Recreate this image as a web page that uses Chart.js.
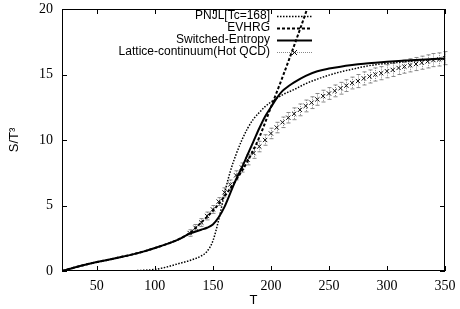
<!DOCTYPE html>
<html>
<head>
<meta charset="utf-8">
<script src="https://cdn.jsdelivr.net/npm/chart.js@4/dist/chart.umd.min.js"></script>
<style>
  html, body { margin: 0; padding: 0; background: #fff; }
  #wrap { width: 460px; height: 309px; }
</style>
</head>
<body>
<div id="wrap"><canvas id="chart"></canvas></div>
<script>
// Switched-Entropy (solid)
const swT = [20, 30, 40, 50, 60, 70, 80, 90, 100, 110, 120, 130, 140, 145, 150, 155, 160, 165, 170, 175, 180, 185, 190, 195, 200, 205, 210, 215, 220, 230, 240, 250, 260, 270, 280, 290, 300, 320, 340, 350];
const swS = [0, 0.25, 0.48, 0.68, 0.86, 1.05, 1.25, 1.48, 1.75, 2.05, 2.4, 2.85, 3.15, 3.3, 3.55, 4.1, 4.9, 5.95, 7.0, 7.9, 8.9, 9.9, 10.9, 11.8, 12.5, 13.2, 13.75, 14.1, 14.4, 14.9, 15.25, 15.45, 15.6, 15.72, 15.82, 15.9, 15.97, 16.08, 16.18, 16.23];

// EVHRG (dashed)
const hrgT = [20, 30, 40, 50, 60, 70, 80, 90, 100, 110, 120, 130, 140, 150, 160, 170, 180, 190, 200, 210, 220, 230, 240];
const hrgS = [0, 0.25, 0.48, 0.68, 0.86, 1.05, 1.25, 1.48, 1.75, 2.05, 2.4, 2.9, 3.7, 4.6, 5.7, 6.95, 8.4, 10.2, 12.5, 14.8, 17.2, 19.7, 22.3];

// PNJL[Tc=168] (dotted)
const pnjlT = [20, 60, 80, 90, 100, 110, 120, 130, 140, 145, 150, 155, 160, 165, 170, 175, 180, 185, 190, 195, 200, 210, 220, 230, 240, 250, 260, 270, 280, 290, 300, 320, 340, 350];
const pnjlS = [0, 0, 0.02, 0.05, 0.12, 0.3, 0.55, 0.8, 1.15, 1.5, 2.3, 3.9, 5.9, 7.6, 8.9, 10.0, 10.9, 11.6, 12.1, 12.55, 12.9, 13.45, 13.85, 14.3, 14.65, 14.95, 15.2, 15.4, 15.6, 15.75, 15.85, 16.0, 16.15, 16.2];

// Lattice-continuum (Hot QCD) with errors
const latT = [130, 135, 140, 145, 150, 155, 160, 165, 170, 175, 180, 185, 190, 195, 200, 205, 210, 215, 220, 225, 230, 235, 240, 245, 250, 255, 260, 265, 270, 275, 280, 285, 290, 295, 300, 305, 310, 315, 320, 325, 330, 335, 340, 345, 350];
const latS = [2.9, 3.3, 3.7, 4.2, 4.7, 5.3, 6.0, 6.6, 7.3, 7.9, 8.5, 9.0, 9.5, 10.0, 10.5, 10.95, 11.35, 11.7, 12.0, 12.3, 12.6, 12.85, 13.1, 13.35, 13.55, 13.75, 13.95, 14.15, 14.35, 14.5, 14.7, 14.85, 15.0, 15.1, 15.25, 15.35, 15.5, 15.6, 15.7, 15.8, 15.9, 16.0, 16.1, 16.15, 16.25];
const latErr = [0.25, 0.25, 0.3, 0.3, 0.3, 0.3, 0.35, 0.35, 0.35, 0.35, 0.4, 0.4, 0.4, 0.4, 0.4, 0.4, 0.4, 0.4, 0.45, 0.45, 0.45, 0.45, 0.45, 0.45, 0.45, 0.45, 0.45, 0.45, 0.45, 0.5, 0.5, 0.5, 0.5, 0.5, 0.5, 0.5, 0.5, 0.5, 0.5, 0.5, 0.5, 0.5, 0.5, 0.5, 0.5];

const xTicks = [50, 100, 150, 200, 250, 300, 350];
const yTicks = [0, 5, 10, 15, 20];
const legendNames = ['PNJL[Tc=168]', 'EVHRG', 'Switched-Entropy', 'Lattice-continuum(Hot QCD)'];

function pts(xs, ys) {
  return xs.map((x, i) => ({ x: x, y: ys[i] }));
}

// frame, inward ticks, error bars, legend (gnuplot look)
const gnuplotLook = {
  id: 'gnuplotLook',
  beforeDatasetsDraw(chart) {
    const { ctx, scales: { x, y } } = chart;
    ctx.save();
    ctx.strokeStyle = '#888';
    ctx.lineWidth = 1;
    latT.forEach((t, i) => {
      const px = Math.round(x.getPixelForValue(t)) + 0.5;
      const top = y.getPixelForValue(latS[i] + latErr[i]);
      const bot = y.getPixelForValue(latS[i] - latErr[i]);
      ctx.setLineDash([1, 1]);
      ctx.beginPath();
      ctx.moveTo(px, top);
      ctx.lineTo(px, bot);
      ctx.stroke();
      ctx.setLineDash([]);
      ctx.beginPath();
      ctx.moveTo(px - 2, top); ctx.lineTo(px + 2, top);
      ctx.moveTo(px - 2, bot); ctx.lineTo(px + 2, bot);
      ctx.stroke();
    });
    ctx.restore();
  },
  afterDraw(chart) {
    const { ctx, chartArea: a, scales: { x, y } } = chart;
    ctx.save();
    ctx.strokeStyle = '#000';
    ctx.lineWidth = 1;
    ctx.setLineDash([]);
    ctx.strokeRect(a.left + 0.5, a.top + 0.5, a.right - a.left - 1, a.bottom - a.top - 1);
    ctx.beginPath();
    xTicks.forEach(v => {
      const px = Math.round(x.getPixelForValue(v)) + 0.5;
      ctx.moveTo(px, a.bottom); ctx.lineTo(px, a.bottom - 5);
      ctx.moveTo(px, a.top); ctx.lineTo(px, a.top + 5);
    });
    yTicks.forEach(v => {
      const py = Math.round(y.getPixelForValue(v)) + 0.5;
      ctx.moveTo(a.left, py); ctx.lineTo(a.left + 5, py);
      ctx.moveTo(a.right, py); ctx.lineTo(a.right - 5, py);
    });
    ctx.stroke();

    // legend
    ctx.font = '12px "Liberation Sans", Arial, sans-serif';
    ctx.fillStyle = '#000';
    ctx.textAlign = 'right';
    ctx.textBaseline = 'middle';
    const textRight = 270, x0 = 277, x1 = 312;
    chart.data.datasets.forEach((ds, i) => {
      const ry = 16 + i * 12;
      ctx.fillText(legendNames[i], textRight, ry);
      ctx.beginPath();
      if (i === 3) {
        ctx.strokeStyle = '#888';
        ctx.lineWidth = 1;
        ctx.setLineDash([1, 1]);
      } else {
        ctx.strokeStyle = '#000';
        ctx.lineWidth = ds.borderWidth;
        ctx.setLineDash(ds.borderDash || []);
      }
      ctx.moveTo(x0, ry + 0.5);
      ctx.lineTo(x1, ry + 0.5);
      ctx.stroke();
      if (i === 3) {
        ctx.setLineDash([]);
        ctx.strokeStyle = '#111';
        const cx = (x0 + x1) / 2;
        ctx.beginPath();
        ctx.moveTo(cx - 2.5, ry - 2); ctx.lineTo(cx + 2.5, ry + 3);
        ctx.moveTo(cx - 2.5, ry + 3); ctx.lineTo(cx + 2.5, ry - 2);
        ctx.stroke();
      }
    });
    ctx.restore();
  }
};

new Chart(document.getElementById('chart'), {
  type: 'scatter',
  data: {
    datasets: [
      {
        label: legendNames[0], data: pts(pnjlT, pnjlS), showLine: true,
        borderColor: '#000', borderWidth: 1.5, borderDash: [1.5, 1.5],
        pointRadius: 0, cubicInterpolationMode: 'monotone'
      },
      {
        label: legendNames[1], data: pts(hrgT, hrgS), showLine: true,
        borderColor: '#000', borderWidth: 2, borderDash: [3, 2],
        pointRadius: 0, cubicInterpolationMode: 'monotone'
      },
      {
        label: legendNames[2], data: pts(swT, swS), showLine: true,
        borderColor: '#000', borderWidth: 2,
        pointRadius: 0, cubicInterpolationMode: 'monotone'
      },
      {
        label: legendNames[3], data: pts(latT, latS), showLine: false,
        borderColor: '#111', borderWidth: 1, pointStyle: 'crossRot', pointRadius: 3
      }
    ]
  },
  options: {
    responsive: true,
    maintainAspectRatio: false,
    animation: false,
    layout: { padding: { top: 9, right: 15, left: 0, bottom: 0 } },
    plugins: { legend: { display: false }, tooltip: { enabled: false } },
    scales: {
      x: {
        type: 'linear', min: 20, max: 350,
        afterBuildTicks: s => { s.ticks = xTicks.map(v => ({ value: v })); },
        afterFit: s => { s.height = 38; s.paddingLeft = 0; s.paddingRight = 0; },
        grid: { display: false, drawTicks: false },
        border: { display: false },
        ticks: { padding: 7, color: '#000', maxRotation: 0, font: { family: '"Liberation Serif", serif', size: 14 } },
        title: { display: true, text: 'T', color: '#000', padding: { top: 0, bottom: 1 }, font: { family: '"Liberation Sans", Arial, sans-serif', size: 13 } }
      },
      y: {
        type: 'linear', min: 0, max: 20,
        afterBuildTicks: s => { s.ticks = yTicks.map(v => ({ value: v })); },
        afterFit: s => { s.width = 62; s.paddingTop = 0; s.paddingBottom = 0; },
        grid: { display: false, drawTicks: false },
        border: { display: false },
        ticks: { padding: 9, color: '#000', font: { family: '"Liberation Serif", serif', size: 14 } },
        title: { display: true, text: 'S/T³', color: '#000', padding: { top: 7, bottom: 0 }, font: { family: '"Liberation Sans", Arial, sans-serif', size: 13 } }
      }
    }
  },
  plugins: [gnuplotLook]
});
</script>
</body>
</html>
